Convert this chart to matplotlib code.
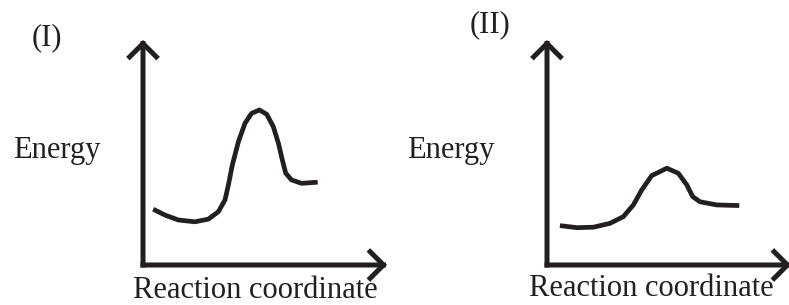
import matplotlib.pyplot as plt
from matplotlib.patches import FancyArrowPatch

# reaction coordinate / energy (arbitrary units, 0..10)
coord_1 = [0.42, 0.90, 1.45, 2.13, 2.68, 3.09, 3.36, 3.50, 3.66, 3.91, 4.18,
           4.45, 4.77, 5.07, 5.34, 5.55, 5.71, 5.85, 6.09, 6.50, 7.16]
energy_1 = [2.48, 2.22, 2.00, 1.92, 2.04, 2.37, 2.89, 3.56, 4.44, 5.48, 6.30,
            6.74, 6.89, 6.70, 6.15, 5.41, 4.67, 4.08, 3.78, 3.63, 3.68]

coord_2 = [0.53, 1.22, 1.90, 2.58, 3.13, 3.54, 3.88, 4.29, 4.91, 5.38, 5.73,
           5.97, 6.27, 6.95, 7.88]
energy_2 = [1.75, 1.66, 1.68, 1.85, 2.15, 2.67, 3.33, 3.97, 4.30, 4.08, 3.56,
            3.04, 2.81, 2.67, 2.64]

panel_labels = ["(I)", "(II)"]
x_label = "Reaction coordinate"
y_label = "Energy"

W, H = 789, 305
fig = plt.figure(figsize=(W / 100, H / 100), dpi=100)
ink = '#231f20'
font = {'family': 'Liberation Serif', 'size': 22, 'color': ink}


def panel(left_px, coord, energy):
    # origin at (left_px, 265) px, 244 px wide, 225 px tall
    ax = fig.add_axes([left_px / W, (H - 265) / H, 244 / W, 225 / H])
    ax.set_xlim(0, 10)
    ax.set_ylim(0, 10)
    ax.axis('off')
    for end in [(0, 1), (1, 0)]:
        arr = FancyArrowPatch((0, 0), end, transform=ax.transAxes,
                              arrowstyle='->,head_length=0.8,head_width=0.8',
                              mutation_scale=12, lw=3.6, color=ink,
                              capstyle='projecting', joinstyle='miter',
                              shrinkA=0, shrinkB=0, clip_on=False)
        ax.add_patch(arr)
    ax.plot(coord, energy, color=ink, lw=3.4, solid_capstyle='butt',
            solid_joinstyle='round')
    return ax


panel(143, coord_1, energy_1)
panel(547, coord_2, energy_2)

fig.text(0.06, 0.875, panel_labels[0], ha='center', va='center', **font)
fig.text(0.621, 0.918, panel_labels[1], ha='center', va='center', **font)
fig.text(0.0165, 0.508, y_label, ha='left', va='center', **font)
fig.text(0.516, 0.508, y_label, ha='left', va='center', **font)
fig.text(0.323, 0.024, x_label, ha='center', va='baseline', **font)
fig.text(0.825, 0.028, x_label, ha='center', va='baseline', **font)

fig.savefig('out.png', dpi=100)
